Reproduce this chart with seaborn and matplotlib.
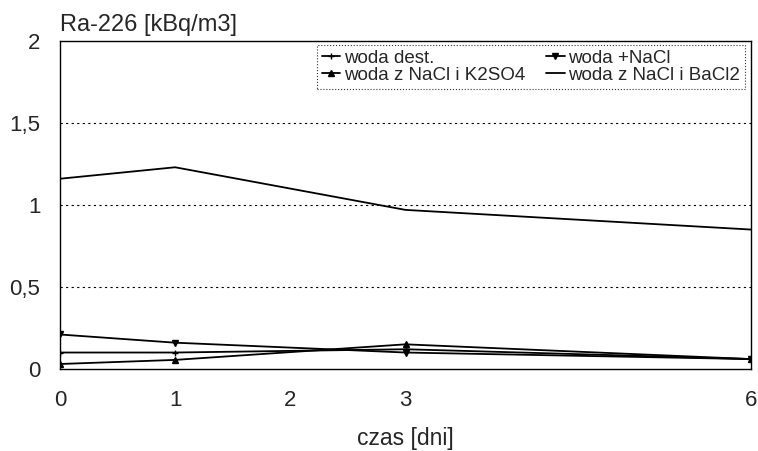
import pandas as pd
import matplotlib.pyplot as plt
import seaborn as sns

# Data
days = [0, 1, 3, 6]
woda_dest = [0.10, 0.10, 0.12, 0.06]
woda_nacl = [0.21, 0.16, 0.10, 0.06]
woda_k2so4 = [0.03, 0.055, 0.15, 0.06]
woda_bacl2 = [1.16, 1.23, 0.97, 0.85]

series_names = ["woda dest.", "woda +NaCl", "woda z NaCl i K2SO4", "woda z NaCl i BaCl2"]
series_values = [woda_dest, woda_nacl, woda_k2so4, woda_bacl2]
series_markers = ["+", "v", "^", ""]

x_ticks = [0, 1, 2, 3, 6]
y_ticks = [0, 0.5, 1, 1.5, 2]
y_tick_labels = ["0", "0,5", "1", "1,5", "2"]

frames = []
for name, vals in zip(series_names, series_values):
    frames.append(pd.DataFrame({"czas": days, "Ra": vals, "seria": name}))
df = pd.concat(frames, ignore_index=True)

sns.set_style("white")
plt.rcParams["font.family"] = ["Liberation Sans", "DejaVu Sans"]

fig = plt.figure(figsize=(7.58, 4.51), dpi=100)
ax = fig.add_axes([0.079, 0.182, 0.912, 0.727])

for name, mk in zip(series_names, series_markers):
    sub = df[df["seria"] == name]
    sns.lineplot(data=sub, x="czas", y="Ra", ax=ax, color="black", linewidth=1.3,
                 marker=mk if mk else None, markersize=5, markeredgewidth=1.0,
                 markeredgecolor="black", markerfacecolor="black",
                 label=name)

# Horizontal dotted gridlines
for yv in [0.5, 1, 1.5]:
    ax.axhline(yv, color="black", linestyle=(0, (2, 3)), linewidth=0.8, zorder=0)

ax.set_xlim(0, 6)
ax.set_ylim(0, 2)
ax.set_xticks(x_ticks)
ax.set_xticklabels([str(t) for t in x_ticks])
ax.set_yticks(y_ticks)
ax.set_yticklabels(y_tick_labels)
ax.tick_params(axis="x", length=0, pad=15, labelsize=16)
ax.tick_params(axis="y", length=0, pad=14, labelsize=16)

for sp in ax.spines.values():
    sp.set_color("black")
    sp.set_linewidth(1.0)

ax.set_xlabel("czas [dni]", fontsize=16.5, labelpad=12)
ax.set_ylabel("")
ax.set_title("Ra-226 [kBq/m3]", loc="left", fontsize=17, pad=7)

# row-wise legend order: matplotlib fills columns first
handles, labels = ax.get_legend_handles_labels()
order = [0, 2, 1, 3]
leg = ax.legend([handles[i] for i in order], [labels[i] for i in order],
                loc="upper right", ncol=2, fontsize=13.5, handlelength=1.0,
                handletextpad=0.2, columnspacing=1.1, borderpad=0.25,
                labelspacing=0.0, fancybox=False, borderaxespad=0,
                bbox_to_anchor=(0.991, 0.988))
leg.get_frame().set_edgecolor("black")
leg.get_frame().set_linestyle(":")
leg.get_frame().set_linewidth(0.8)

fig.savefig("out.png", dpi=100)
